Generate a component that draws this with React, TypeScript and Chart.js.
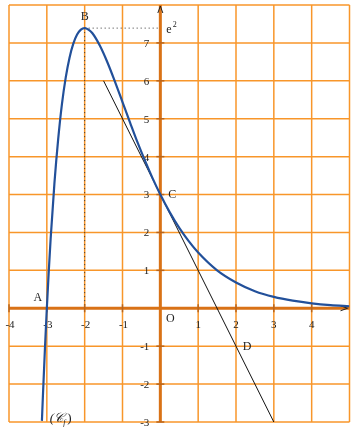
import React, { useEffect, useRef } from "react";
import { Chart, registerables } from "chart.js";
Chart.register(...registerables);

const curveX = [-3.13, -3.1, -3.05, -3, -2.95, -2.9, -2.8, -2.7, -2.6, -2.5, -2.4, -2.3, -2.2, -2.1, -2, -1.9, -1.8, -1.6, -1.4, -1.2, -1, -0.8, -0.6, -0.4, -0.2, 0, 0.25, 0.5, 0.75, 1, 1.5, 2, 2.5, 3, 3.5, 4, 4.5, 5];
const curveY = [-2.97, -2.22, -1.06, 0, 0.96, 1.82, 3.29, 4.46, 5.39, 6.09, 6.61, 6.98, 7.22, 7.35, 7.39, 7.35, 7.26, 6.93, 6.49, 5.98, 5.44, 4.9, 4.37, 3.88, 3.42, 3, 2.53, 2.12, 1.77, 1.47, 1.0, 0.68, 0.45, 0.3, 0.2, 0.13, 0.083, 0.054];
const tangentX = [-1.5, 3];
const tangentY = [6, -3];
const xTickValues = [-4, -3, -2, -1, 1, 2, 3, 4];
const yTickValues = [-3, -2, -1, 1, 2, 3, 4, 5, 6, 7];
const pointNames = ["A", "B", "C", "D"];
const pointX = [-3, -2, 0, 2];
const pointY = [0, 7.39, 3, -1];
const E2 = 7.39;

export default function App() {
  const ref = useRef<HTMLCanvasElement | null>(null);
  useEffect(() => {
    const canvas = ref.current!;
    const serif = "'Liberation Serif', 'DejaVu Serif', serif";
    const gridPlugin = {
      id: "repere",
      beforeDatasetsDraw(chart: any) {
        const ctx = chart.ctx;
        const xs = chart.scales.x;
        const ys = chart.scales.y;
        const ca = chart.chartArea;
        ctx.save();
        ctx.strokeStyle = "#f8962a";
        ctx.lineWidth = 1.5;
        for (let v = -4; v <= 5; v++) {
          const px = xs.getPixelForValue(v);
          ctx.beginPath();
          ctx.moveTo(px, ca.top);
          ctx.lineTo(px, ca.bottom);
          ctx.stroke();
        }
        for (let v = -3; v <= 8; v++) {
          const py = ys.getPixelForValue(v);
          ctx.beginPath();
          ctx.moveTo(ca.left, py);
          ctx.lineTo(ca.right, py);
          ctx.stroke();
        }
        const x0 = xs.getPixelForValue(0);
        const y0 = ys.getPixelForValue(0);
        ctx.strokeStyle = "#333";
        ctx.lineWidth = 1;
        ctx.setLineDash([1, 3]);
        const bx = xs.getPixelForValue(-2);
        const by = ys.getPixelForValue(E2);
        ctx.beginPath();
        ctx.moveTo(bx, by);
        ctx.lineTo(x0, by);
        ctx.moveTo(bx, by);
        ctx.lineTo(bx, y0);
        ctx.stroke();
        ctx.setLineDash([]);
        ctx.strokeStyle = "#d97216";
        ctx.lineWidth = 3;
        ctx.beginPath();
        ctx.moveTo(ca.left, y0);
        ctx.lineTo(ca.right, y0);
        ctx.moveTo(x0, ca.bottom);
        ctx.lineTo(x0, ca.top);
        ctx.stroke();
        ctx.strokeStyle = "#b8651c";
        ctx.lineWidth = 1.5;
        for (const v of xTickValues) {
          const px = xs.getPixelForValue(v);
          ctx.beginPath();
          ctx.moveTo(px, y0 - 4);
          ctx.lineTo(px, y0 + 4);
          ctx.stroke();
        }
        for (const v of yTickValues) {
          const py = ys.getPixelForValue(v);
          ctx.beginPath();
          ctx.moveTo(x0 - 4, py);
          ctx.lineTo(x0 + 4, py);
          ctx.stroke();
        }
        ctx.strokeStyle = "#222";
        ctx.lineWidth = 1;
        ctx.beginPath();
        ctx.moveTo(x0 - 2.5, ca.top + 8);
        ctx.lineTo(x0, ca.top + 1);
        ctx.lineTo(x0 + 2.5, ca.top + 8);
        ctx.moveTo(ca.right - 9, y0 - 2.5);
        ctx.lineTo(ca.right - 2, y0);
        ctx.lineTo(ca.right - 9, y0 + 2.5);
        ctx.stroke();
        ctx.fillStyle = "#222";
        ctx.font = "11px " + serif;
        ctx.textAlign = "center";
        ctx.textBaseline = "middle";
        for (const v of xTickValues) {
          const px = xs.getPixelForValue(v);
          ctx.fillText(String(v), px + (v < 0 ? 1 : 0), y0 + 17);
        }
        ctx.textAlign = "right";
        for (const v of yTickValues) {
          const py = ys.getPixelForValue(v);
          ctx.fillText(String(v), x0 - 11, py + 1);
        }
        ctx.restore();
      },
      afterDatasetsDraw(chart: any) {
        const ctx = chart.ctx;
        const xs = chart.scales.x;
        const ys = chart.scales.y;
        const x0 = xs.getPixelForValue(0);
        const y0 = ys.getPixelForValue(0);
        ctx.save();
        ctx.fillStyle = "#222";
        ctx.font = "12px " + serif;
        ctx.textBaseline = "middle";
        ctx.textAlign = "center";
        const offs = [[-9, -10], [0, -11], [12, 0], [11, 1]];
        pointNames.forEach((n, i) => {
          const px = xs.getPixelForValue(pointX[i]);
          const py = ys.getPixelForValue(pointY[i]);
          ctx.fillText(n, px + offs[i][0], py + offs[i][1]);
        });
        ctx.fillText("O", x0 + 10, y0 + 11);
        const ey = ys.getPixelForValue(E2);
        ctx.textAlign = "left";
        ctx.fillText("e", x0 + 6, ey + 2);
        ctx.font = "8px " + serif;
        ctx.fillText("2", x0 + 12.5, ey - 3);
        const cx = xs.getPixelForValue(-3);
        const cy = ys.getPixelForValue(-3);
        ctx.font = "italic 13px " + serif;
        ctx.fillText("(\uD835\uDC9E", cx + 3, cy - 3);
        const w = ctx.measureText("(\uD835\uDC9E").width;
        ctx.font = "italic 8px " + serif;
        ctx.fillText("f", cx + 3 + w, cy + 1);
        ctx.font = "13px " + serif;
        ctx.fillText(")", cx + 3 + w + 4, cy - 3);
        ctx.restore();
      },
    };
    const chart = new Chart(canvas, {
      type: "scatter",
      data: {
        datasets: [
          {
            data: curveX.map((x, i) => ({ x, y: curveY[i] })),
            showLine: true,
            borderColor: "#22509a",
            borderWidth: 2.2,
            pointRadius: 0,
            cubicInterpolationMode: "monotone",
          } as any,
          {
            data: tangentX.map((x, i) => ({ x, y: tangentY[i] })),
            showLine: true,
            borderColor: "#111",
            borderWidth: 1,
            pointRadius: 0,
          },
        ],
      },
      options: {
        responsive: false,
        animation: false,
        layout: { padding: { left: 9, right: 5.5, top: 5, bottom: 8 } },
        plugins: { legend: { display: false }, tooltip: { enabled: false } },
        scales: {
          x: { type: "linear", min: -4, max: 5, display: false },
          y: { type: "linear", min: -3, max: 8, display: false },
        },
      },
      plugins: [gridPlugin],
    });
    return () => chart.destroy();
  }, []);
  return (
    <div style={{ position: "fixed", left: 0, top: 0, width: 355, height: 430, background: "#fff" }}>
      <canvas ref={ref} width={355} height={430} style={{ width: 355, height: 430 }} />
    </div>
  );
}
